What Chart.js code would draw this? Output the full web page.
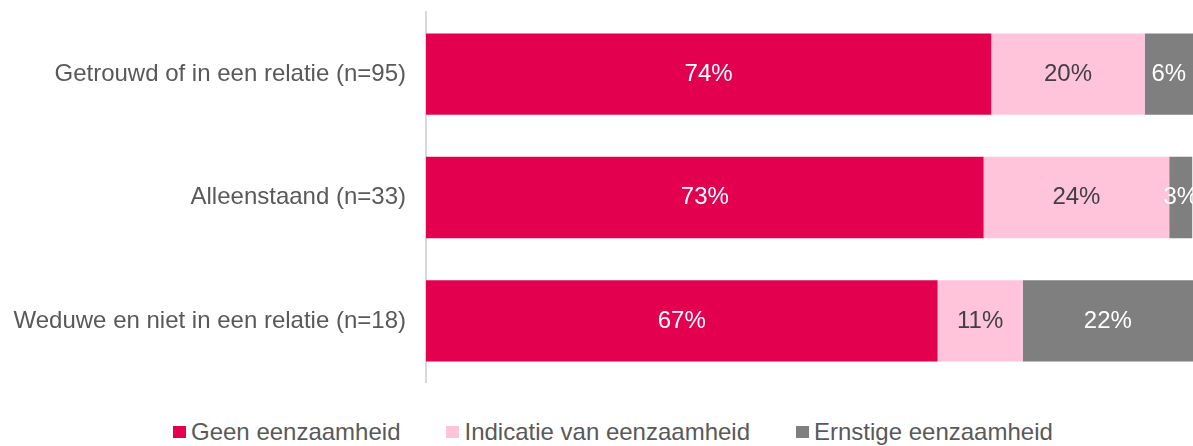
<!DOCTYPE html>
<html>
<head>
<meta charset="utf-8">
<script src="https://cdn.jsdelivr.net/npm/chart.js@4.4.1/dist/chart.umd.min.js"></script>
<style>
    html, body { margin: 0; padding: 0; background: #fff; }
    #wrap { position: relative; width: 1193px; height: 446px; overflow: hidden; }
    #chartBox { position: absolute; left: 0; top: -22px; width: 1193px; height: 439px; }
    #legend {
        position: absolute; left: 173px; top: 418px;
        display: flex; gap: 46px; white-space: nowrap;
        font-family: "Liberation Sans", Arial, sans-serif; font-size: 24px; color: #595959;
    }
    #legend .item { display: flex; align-items: center; }
    #legend .box { width: 13px; height: 12px; margin-right: 5px; }
</style>
</head>
<body>
<div id="wrap">
    <div id="chartBox"><canvas id="chart"></canvas></div>
    <div id="legend"></div>
</div>
<script>
const categories = [
    'Getrouwd of in een relatie (n=95)',
    'Alleenstaand (n=33)',
    'Weduwe en niet in een relatie (n=18)'
];
const seriesNames = ['Geen eenzaamheid', 'Indicatie van eenzaamheid', 'Ernstige eenzaamheid'];
const geen = [73.7, 72.7, 66.7];
const indicatie = [20.0, 24.2, 11.1];
const ernstig = [6.3, 3.0, 22.2];

const colors = ['#E2004F', '#FFC4DA', '#7F7F7F'];
const labelColors = ['#FFFFFF', '#404040', '#FFFFFF'];
const fontFamily = '"Liberation Sans", Arial, sans-serif';

// draws the percentage inside every segment
const segmentLabels = {
    id: 'segmentLabels',
    afterDatasetsDraw(chart) {
        const ctx = chart.ctx;
        ctx.save();
        ctx.font = '24px ' + fontFamily;
        ctx.textAlign = 'center';
        ctx.textBaseline = 'middle';
        chart.data.datasets.forEach((ds, i) => {
            const meta = chart.getDatasetMeta(i);
            meta.data.forEach((bar, j) => {
                const x = (bar.x + bar.base) / 2;
                ctx.fillStyle = labelColors[i];
                ctx.fillText(Math.round(ds.data[j]) + '%', x, bar.y);
            });
        });
        ctx.restore();
    }
};

const chart = new Chart(document.getElementById('chart'), {
    type: 'bar',
    data: {
        labels: categories,
        datasets: [
            { label: seriesNames[0], data: geen, backgroundColor: colors[0] },
            { label: seriesNames[1], data: indicatie, backgroundColor: colors[1] },
            { label: seriesNames[2], data: ernstig, backgroundColor: colors[2] }
        ]
    },
    options: {
        indexAxis: 'y',
        responsive: true,
        maintainAspectRatio: false,
        animation: false,
        layout: { padding: { top: 10, bottom: 18, left: 0, right: 0 } },
        datasets: {
            bar: { categoryPercentage: 1, barPercentage: 0.66 }
        },
        plugins: {
            legend: { display: false },
            tooltip: { enabled: false }
        },
        scales: {
            x: {
                stacked: true,
                min: 0,
                max: 100,
                display: false
            },
            y: {
                stacked: true,
                afterFit(scale) { scale.width = 426; },
                grid: { display: false, drawTicks: false },
                border: { display: true, color: '#D9D9D9', width: 2 },
                ticks: {
                    padding: 20,
                    color: '#595959',
                    font: { family: fontFamily, size: 24 }
                }
            }
        }
    },
    plugins: [segmentLabels]
});

const legend = document.getElementById('legend');
seriesNames.forEach((name, i) => {
    const item = document.createElement('div');
    item.className = 'item';
    const box = document.createElement('span');
    box.className = 'box';
    box.style.background = colors[i];
    const txt = document.createElement('span');
    txt.textContent = name;
    item.appendChild(box);
    item.appendChild(txt);
    legend.appendChild(item);
});
</script>
</body>
</html>
